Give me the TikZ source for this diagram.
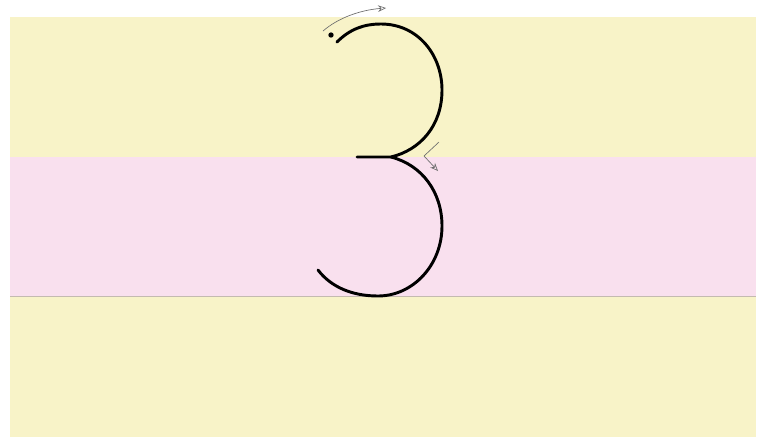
\documentclass[tikz,border=0pt]{standalone}
\usetikzlibrary{arrows.meta}
\definecolor{bandyellow}{RGB}{248,243,200}
\definecolor{bandpink}{RGB}{249,224,238}
\definecolor{ruleGray}{RGB}{196,186,176}
\definecolor{hintGray}{RGB}{110,110,110}
\tikzset{
  glyph/.style={line width=2.2pt, black, line cap=round, line join=round},
  hint/.style={line width=0.5pt, hintGray, -{Stealth[length=6pt,width=5pt,open]}}
}
\begin{document}
\begin{tikzpicture}[x=0.75pt,y=-0.75pt]
\useasboundingbox (0,0) rectangle (757,437);
\fill[white] (0,0) rectangle (757,437);
\fill[bandyellow] (10,17) rectangle (756,437);
\fill[bandpink] (10,157) rectangle (756,296);
\draw[draw=ruleGray, line width=1pt] (10,296.5) -- (756,296.5);
% digit 3
\coordinate (s) at (337,42);
\coordinate (j) at (391,157);
\coordinate (b) at (357,157);
\coordinate (e) at (318,270);
\draw[glyph] (s) .. controls (350,29) and (364,24) .. (381,24)
  .. controls (418,24) and (442,55) .. (442,90)
  .. controls (442,126) and (420,150) .. (j) -- (b);
\draw[glyph] (j) .. controls (422,165) and (442,192) .. (442,226)
  .. controls (442,265) and (413,296) .. (378,296)
  .. controls (352,296) and (331,287) .. (e);
% start dot
\node[circle, fill=black, inner sep=0pt, minimum size=4pt] (dot) at (331,35) {};
% stroke hints
\coordinate (a1) at (323,31);
\coordinate (a2) at (386,8);
\draw[hint] (a1) .. controls (338,18) and (360,10) .. (a2);
\coordinate (h1) at (439,142);
\coordinate (h2) at (424,156);
\coordinate (h3) at (438,171);
\draw[hint] (h1) -- (h2) -- (h3);
\end{tikzpicture}
\end{document}
